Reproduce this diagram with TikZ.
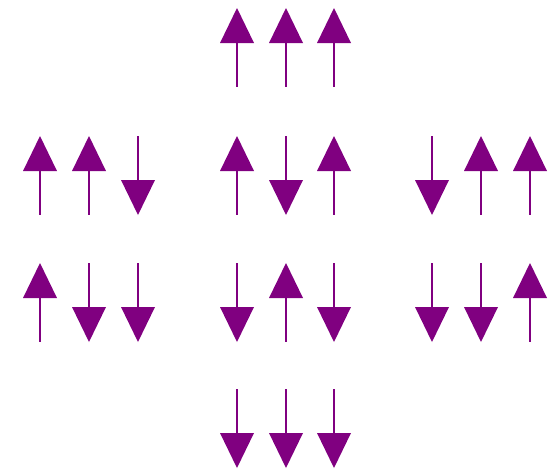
\documentclass[tikz,border=0pt]{standalone}
\usepackage{tikz}
\definecolor{spin}{RGB}{128,0,128}
\tikzset{
  x=1pt, y=1pt,
  spinup/.pic={
    \fill[spin] (0,0) -- (-17,-35) -- (17,-35) -- cycle;
    \draw[spin, line width=2pt] (0,-34) -- (0,-79);
  },
  spindown/.pic={
    \draw[spin, line width=2pt] (0,0) -- (0,-45);
    \fill[spin] (0,-79) -- (-17,-44) -- (17,-44) -- cycle;
  }
}
\begin{document}
\begin{tikzpicture}
  \useasboundingbox (0,0) rectangle (555,-469);
  % top row: all up
  \foreach \x in {237,286,334} \pic at (\x,-8) {spinup};
  % second row
  \pic at (40,-136) {spinup};
  \pic at (89,-136) {spinup};
  \pic at (138,-136) {spindown};
  \pic at (237,-136) {spinup};
  \pic at (286,-136) {spindown};
  \pic at (334,-136) {spinup};
  \pic at (432,-136) {spindown};
  \pic at (481,-136) {spinup};
  \pic at (530,-136) {spinup};
  % third row
  \pic at (40,-263) {spinup};
  \pic at (89,-263) {spindown};
  \pic at (138,-263) {spindown};
  \pic at (237,-263) {spindown};
  \pic at (286,-263) {spinup};
  \pic at (334,-263) {spindown};
  \pic at (432,-263) {spindown};
  \pic at (481,-263) {spindown};
  \pic at (530,-263) {spinup};
  % bottom row: all down
  \foreach \x in {237,286,334} \pic at (\x,-389) {spindown};
\end{tikzpicture}
\end{document}
